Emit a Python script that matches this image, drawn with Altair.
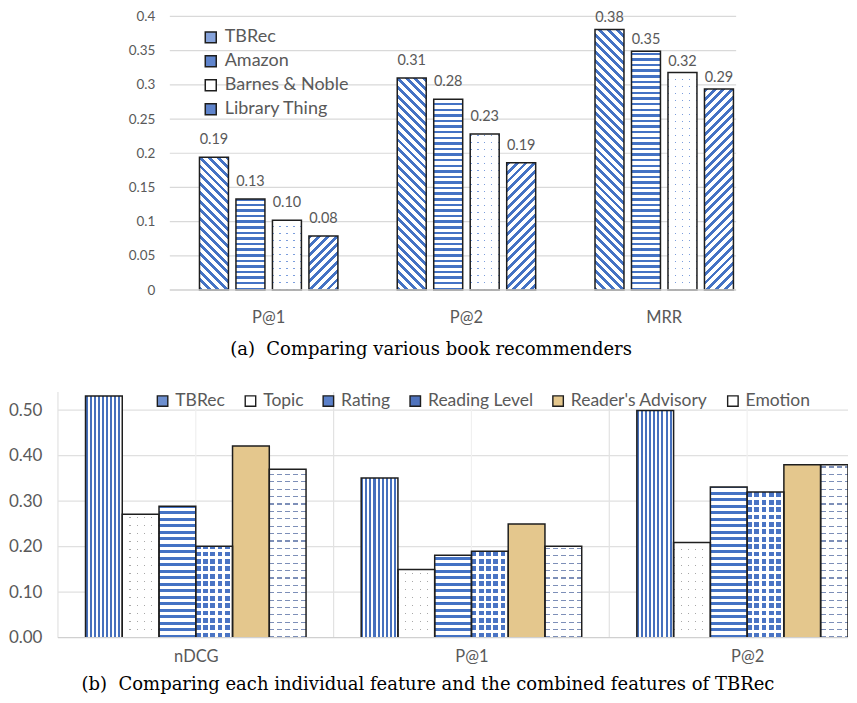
import json
import math
import altair as alt
import pandas as pd

# ---------------- data ----------------
metrics_a = ["P@1", "P@2", "MRR"]
methods_a = ["TBRec", "Amazon", "Barnes & Noble", "Library Thing"]
tbrec_a = [0.194, 0.310, 0.381]
amazon_a = [0.133, 0.279, 0.349]
barnes_a = [0.102, 0.228, 0.318]
library_a = [0.079, 0.186, 0.294]
y_ticks_a = [0, 0.05, 0.1, 0.15, 0.2, 0.25, 0.3, 0.35, 0.4]

metrics_b = ["nDCG", "P@1", "P@2"]
features_b = ["TBRec", "Topic", "Rating", "Reading Level", "Reader's Advisory", "Emotion"]
tbrec_b = [0.531, 0.351, 0.499]
topic_b = [0.271, 0.150, 0.209]
rating_b = [0.289, 0.181, 0.331]
reading_b = [0.201, 0.190, 0.320]
advisory_b = [0.421, 0.250, 0.380]
emotion_b = [0.370, 0.201, 0.380]
y_ticks_b = [0, 0.1, 0.2, 0.3, 0.4, 0.5]

caption_a = "(a)\u00a0 Comparing various book recommenders"
caption_b = "(b)\u00a0 Comparing each individual feature and the combined features of TBRec"

# ---------------- styles ----------------
FONT = "Lato"
SERIF = "DejaVu Serif"
GRAY = "#595959"
BLUE = "#4472c4"
WHITE = "#ffffff"
CLEAR = "rgba(255,255,255,0)"
EDGE = "#1e1e1e"

W_A, H_A, R_A = 567, 274, 594
PI_A, PO_A, PIO_A = 0.3, 0.15, 0.206
YMAX_A = 0.4
W_B, H_B, STEP_B = 791, 246, 276.0
PI_B, PO_B = 0.2, 0.1
YMAX_B = 0.54
DMAX_B = W_B / STEP_B          # visible part of the category axis (in category steps)
FRAC_B = (1 - PI_B) / len(features_b)

style_a = {
    "TBRec": {"kind": "diag_down", "color": BLUE, "period": 6.2, "frac": 0.45},
    "Amazon": {"kind": "h", "color": BLUE, "period": 5.6, "frac": 0.45},
    "Barnes & Noble": {"kind": "grid", "color": "#7b9ddc", "px": 7.0, "dx": 1.3, "py": 7.0, "dy": 1.3},
    "Library Thing": {"kind": "diag_up", "color": BLUE, "period": 6.2, "frac": 0.45},
}
swatch_a = ["#86a3db", "#5f84cc", "#ffffff", "#5f84cc"]

style_b = {
    "TBRec": {"kind": "v", "color": "#4670bd", "period": 4.1, "frac": 0.5},
    "Topic": {"kind": "grid", "color": "#a8a8a8", "px": 7.2, "dx": 1.1, "py": 8.0, "dy": 1.1},
    "Rating": {"kind": "h", "color": BLUE, "period": 6.5, "frac": 0.45},
    "Reading Level": {"kind": "grid", "color": "#4a74c4", "px": 7.3, "dx": 4.8, "py": 7.4, "dy": 4.8},
    "Reader's Advisory": {"kind": "solid", "color": "#e4c78d"},
    "Emotion": {"kind": "grid", "color": "#7d8fb8", "px": 8.0, "dx": 5.0, "py": 7.4, "dy": 1.2},
}
swatch_b = ["#6d8fcf", "#ffffff", "#5b80c9", "#4f73bd", "#e4c78d", "#ffffff"]


def band_width(R, n, pi, po):
    step = R / (n - pi + 2 * po)
    return step * (1 - pi)


bw_a = band_width(R_A, 3, PI_A, PO_A)
barw_a = band_width(bw_a, 4, PIO_A, 0)


def stops(length, period, on_frac, on_col, off_col):
    out = []
    i = 0
    while i * period < length - 1e-9:
        a = i * period / length
        b = min((i + on_frac) * period / length, 1.0)
        c = min((i + 1) * period / length, 1.0)
        out += [(a, on_col), (b, on_col), (b, off_col), (c, off_col)]
        i += 1
    return [{"offset": round(o, 5), "color": col} for o, col in out]


def grad(x1, y1, x2, y2, st):
    return {"gradient": "linear", "x1": x1, "y1": y1, "x2": x2, "y2": y2, "stops": st}


def fills_for(style, w, h):
    k = style["kind"]
    c = style.get("color")
    if k == "solid":
        return c, None, None
    if k == "h":
        return grad(0, 1, 0, 0, stops(h, style["period"], style["frac"], c, WHITE)), None, None
    if k == "v":
        return grad(0, 0, 1, 0, stops(w, style["period"], style["frac"], c, WHITE)), None, None
    if k in ("diag_down", "diag_up"):
        s = (w + h) / (w * w + h * h)
        L = (w + h) / math.sqrt(2)
        st = stops(L, style["period"], style["frac"], c, WHITE)
        if k == "diag_down":
            return grad(0, 1, round(s * w, 5), round(1 - s * h, 5), st), None, None
        return grad(0, 0, round(s * w, 5), round(s * h, 5), st), None, None
    oh = grad(0, 1, 0, 0, stops(h, style["py"], style["dy"] / style["py"], CLEAR, WHITE))
    ov = grad(0, 0, 1, 0, stops(w, style["px"], style["dx"] / style["px"], CLEAR, WHITE))
    return c, oh, ov


def build_df(metrics, series, columns, key_m, key_s, key_v):
    rows = []
    for si, s in enumerate(series):
        for mi, m in enumerate(metrics):
            rows.append({key_m: m, key_s: s, key_v: columns[si][mi], "mi": mi, "fi": si})
    df = pd.DataFrame(rows)
    df["id"] = range(len(df))
    return df


df_a = build_df(metrics_a, methods_a, [tbrec_a, amazon_a, barnes_a, library_a], "metric_a", "method", "value_a")
df_b = build_df(metrics_b, features_b, [tbrec_b, topic_b, rating_b, reading_b, advisory_b, emotion_b],
                "metric_b", "feature", "value_b")


def chan(lst, default):
    conds = [{"test": f"datum.id === {i}", "value": f} for i, f in lst if f is not None]
    if not conds:
        return alt.value(default)
    return {"condition": conds, "value": default}


def fill_channels(df, key_s, key_v, styles, width_fn, px_per_unit):
    base, oh, ov = [], [], []
    for _, r in df.iterrows():
        f0, f1, f2 = fills_for(styles[r[key_s]], width_fn(r), r[key_v] * px_per_unit)
        base.append((r["id"], f0))
        oh.append((r["id"], f1))
        ov.append((r["id"], f2))
    return chan(base, WHITE), chan(oh, CLEAR), chan(ov, CLEAR)


# ---------------- panel (a) ----------------
x_a = alt.X("metric_a:N", sort=metrics_a,
            scale=alt.Scale(domain=metrics_a, range=[0, R_A], paddingInner=PI_A, paddingOuter=PO_A),
            axis=alt.Axis(title=None, labelAngle=0, labelFont=FONT, labelFontSize=16.5, labelColor=GRAY,
                          labelPadding=19, ticks=False, grid=False, domain=False))
xo_a = alt.XOffset("method:N", sort=methods_a,
                   scale=alt.Scale(domain=methods_a, paddingInner=PIO_A, paddingOuter=0))
y_a = alt.Y("value_a:Q", scale=alt.Scale(domain=[0, YMAX_A], nice=False),
            axis=alt.Axis(title=None, values=y_ticks_a, format="~g", labelFont=FONT, labelFontSize=13.5,
                          labelColor=GRAY, labelPadding=15, ticks=False, domain=False, grid=False))

fa0, fa1, fa2 = fill_channels(df_a, "method", "value_a", style_a, lambda r: barw_a, H_A / YMAX_A)
base_a = alt.Chart(df_a).encode(x=x_a, xOffset=xo_a, y=y_a)

grid_a = alt.Chart(pd.DataFrame({"value_a": y_ticks_a[1:]})).mark_rule(
    color="#d9d9d9", strokeWidth=1.2).encode(y=y_a, x=alt.value(0), x2=alt.value(W_A))
base_line_a = alt.Chart(pd.DataFrame({"value_a": y_ticks_a[:1]})).mark_rule(
    color="#d0d0d0", strokeWidth=1.4).encode(y=y_a, x=alt.value(0), x2=alt.value(W_A))

legend_a = base_a.mark_bar().encode(
    color=alt.Color("method:N", sort=methods_a,
                    scale=alt.Scale(domain=methods_a, range=swatch_a),
                    legend=alt.Legend(title=None, orient="none", legendX=32, legendY=12, direction="vertical",
                                      symbolType="square", symbolSize=121, symbolStrokeColor=EDGE,
                                      symbolStrokeWidth=1.5, labelFont=FONT, labelFontSize=18,
                                      labelColor=GRAY, labelOffset=5, rowPadding=6))
)
bars_a0 = base_a.mark_bar().encode(fill=fa0)
bars_a1 = base_a.mark_bar().encode(fill=fa1)
bars_a2 = base_a.mark_bar(stroke=EDGE, strokeWidth=1.5).encode(fill=fa2)
lab_a1 = base_a.transform_filter("datum.metric_a !== 'MRR'").mark_text(
    baseline="alphabetic", dy=-13, font=FONT, fontSize=14.5, color=GRAY
).encode(text=alt.Text("value_a:Q", format=".2f"))
lab_a2 = base_a.transform_filter("datum.metric_a === 'MRR'").mark_text(
    baseline="alphabetic", dy=-7, font=FONT, fontSize=14.5, color=GRAY
).encode(text=alt.Text("value_a:Q", format=".2f"))

top = alt.layer(grid_a, legend_a, bars_a0, bars_a1, bars_a2, base_line_a, lab_a1, lab_a2).properties(
    width=W_A, height=H_A,
    title=alt.TitleParams(caption_a, orient="bottom", anchor="middle", font=SERIF, fontSize=18,
                          fontWeight="normal", color="black", offset=16, dx=-22),
)

spacer = alt.Chart(pd.DataFrame({"s": [0]})).mark_point(opacity=0).encode(
    x=alt.value(0), y=alt.value(0)
).properties(width=70, height=10)

# ---------------- panel (b) ----------------
label_expr_b = f"{json.dumps(metrics_b)}[floor(datum.value)]"
centers_vals_b = [i + 0.5 for i in range(len(metrics_b))]


def x_b(field):
    return alt.X(f"{field}:Q",
                 scale=alt.Scale(domain=[0, DMAX_B], clamp=True, nice=False, zero=False),
                 axis=alt.Axis(title=None, values=centers_vals_b, labelExpr=label_expr_b, labelAngle=0,
                               labelFont=FONT, labelFontSize=16.5, labelColor=GRAY, labelPadding=11,
                               ticks=False, grid=False, domain=False))


y_b = alt.Y("value_b:Q", scale=alt.Scale(domain=[0, YMAX_B], nice=False),
            axis=alt.Axis(title=None, values=y_ticks_b, format=".2f", labelFont=FONT, labelFontSize=17,
                          labelColor=GRAY, labelPadding=16, ticks=False, domain=False, grid=False))


def visible_width_b(r):
    start = r["mi"] + PO_B + r["fi"] * FRAC_B
    end = min(start + FRAC_B, DMAX_B)
    return (end - start) * STEP_B


fb0, fb1, fb2 = fill_channels(df_b, "feature", "value_b", style_b, visible_width_b, H_B / YMAX_B)
base_b = alt.Chart(df_b).transform_calculate(
    x0=f"datum.mi + {PO_B} + datum.fi * {FRAC_B}",
    x1=f"datum.mi + {PO_B} + (datum.fi + 1) * {FRAC_B}",
).encode(x=x_b("x0"), x2=alt.X2("x1:Q"), y=y_b, y2=alt.datum(0))

cats_b = pd.DataFrame({"metric_b": metrics_b, "mi": list(range(len(metrics_b)))})
grid_b = alt.Chart(pd.DataFrame({"value_b": y_ticks_b[1:]})).mark_rule(
    color="#e0e0e0", strokeWidth=1.2).encode(y=y_b, x=alt.value(0), x2=alt.value(W_B))
base_line_b = alt.Chart(pd.DataFrame({"value_b": y_ticks_b[:1]})).mark_rule(
    color="#d0d0d0", strokeWidth=1.4).encode(y=y_b, x=alt.value(0), x2=alt.value(W_B))
centers_b = alt.Chart(cats_b).transform_calculate(c="datum.mi + 0.5").mark_rule(
    color="#f0f0f0", strokeWidth=1.2).encode(x=x_b("c"), y=alt.value(0), y2=alt.value(H_B))
edges_b = alt.Chart(cats_b).mark_rule(color="#e2e2e2", strokeWidth=1.2).encode(
    x=x_b("mi"), y=alt.value(0), y2=alt.value(H_B))

legend_b = base_b.mark_bar(clip=True).encode(
    color=alt.Color("feature:N", sort=features_b,
                    scale=alt.Scale(domain=features_b, range=swatch_b),
                    legend=alt.Legend(title=None, orient="none", legendX=96, legendY=0, direction="horizontal",
                                      columns=6, symbolType="square", symbolSize=110, symbolStrokeColor=EDGE,
                                      symbolStrokeWidth=1.4, labelFont=FONT, labelFontSize=17.5,
                                      labelColor=GRAY, labelOffset=4, columnPadding=16))
)
bars_b0 = base_b.mark_bar(clip=True).encode(fill=fb0)
bars_b1 = base_b.mark_bar(clip=True).encode(fill=fb1)
bars_b2 = base_b.mark_bar(clip=True, stroke=EDGE, strokeWidth=1.5).encode(fill=fb2)

bottom = alt.layer(grid_b, centers_b, edges_b, legend_b, bars_b0, bars_b1, bars_b2,
                   base_line_b).properties(
    width=W_B, height=H_B,
    title=alt.TitleParams(caption_b, orient="bottom", anchor="middle", font=SERIF, fontSize=18,
                          fontWeight="normal", color="black", offset=11, dx=-25),
)

top_row = alt.hconcat(spacer, top, spacing=0).resolve_scale(color="independent").resolve_legend(
    color="independent")

chart = alt.vconcat(
    top_row,
    bottom,
    spacing=31,
).resolve_scale(x="independent", y="independent", color="independent", xOffset="independent").resolve_legend(
    color="independent"
).properties(
    padding={"left": 0, "top": 1, "right": 0, "bottom": 0}
).configure_view(stroke=None)

chart.save("out.html", embed_options={"renderer": "svg", "actions": False})
